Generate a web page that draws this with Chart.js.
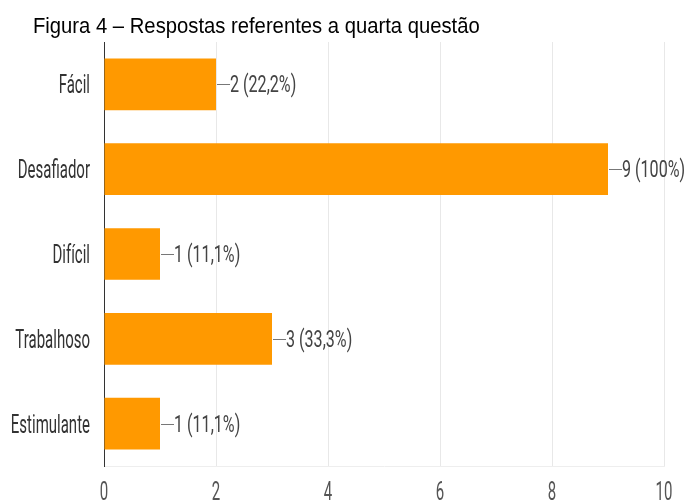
<!DOCTYPE html>
<html>
<head>
<meta charset="utf-8">
<script src="https://cdn.jsdelivr.net/npm/chart.js@4"></script>
<style>
  html, body { margin: 0; padding: 0; background: #fff; }
  #wrap { position: relative; width: 686px; height: 502px; }
  #title {
    position: absolute; left: 33px; top: 13px;
    font-family: "Liberation Sans", Arial, sans-serif;
    font-size: 22px; color: #000; white-space: nowrap;
    transform: scaleX(0.92); transform-origin: left top;
  }
</style>
</head>
<body>
<div id="wrap">
  <div id="title">Figura 4 – Respostas referentes a quarta questão</div>
  <canvas id="chart" width="686" height="502"></canvas>
</div>
<script>
const categories = ['Fácil', 'Desafiador', 'Difícil', 'Trabalhoso', 'Estimulante'];
const counts = [2, 9, 1, 3, 1];
const percents = ['22,2%', '100%', '11,1%', '33,3%', '11,1%'];
const xTicks = [0, 2, 4, 6, 8, 10];

// the original uses a tall condensed face, so squeeze Roboto horizontally
function narrowText(ctx, text, x, y, align, size, sx, color) {
    ctx.save();
    ctx.font = size + 'px Roboto, sans-serif';
    ctx.fillStyle = color;
    ctx.textBaseline = 'alphabetic';
    ctx.textAlign = align;
    ctx.translate(x, y);
    ctx.scale(sx, 1);
    ctx.fillText(text, 0, 0);
    ctx.restore();
}

const narrowLabels = {
    id: 'narrowLabels',
    afterDraw(chart) {
        const ctx = chart.ctx;
        const xs = chart.scales.x, ys = chart.scales.y;
        // category labels
        ys.ticks.forEach((t, i) => {
            const y = ys.getPixelForTick(i);
            narrowText(ctx, categories[i], 90, y + 9, 'right', 25, 0.6, '#333');
        });
        // value axis labels
        xs.ticks.forEach((t, i) => {
            narrowText(ctx, String(t.value), xs.getPixelForTick(i), 500, 'center', 25, 0.6, '#555');
        });
        // "—n (p%)" next to each bar
        const meta = chart.getDatasetMeta(0);
        meta.data.forEach((bar, i) => {
            const y = Math.round(bar.y) + 0.5;
            ctx.save();
            ctx.strokeStyle = '#777';
            ctx.lineWidth = 1;
            ctx.beginPath();
            ctx.moveTo(bar.x + 1, y);
            ctx.lineTo(bar.x + 14, y);
            ctx.stroke();
            ctx.restore();
            narrowText(ctx, counts[i] + ' (' + percents[i] + ')', bar.x + 14, bar.y + 8, 'left', 23, 0.7, '#444');
        });
    }
};

new Chart('chart', {
    type: 'bar',
    data: {
        labels: categories,
        datasets: [{
            data: counts,
            backgroundColor: '#ff9900',
            borderWidth: 0,
            categoryPercentage: 0.61,
            barPercentage: 1
        }]
    },
    options: {
        indexAxis: 'y',
        responsive: false,
        animation: false,
        layout: { padding: { top: 42, right: 22, left: 0, bottom: 0 } },
        plugins: { legend: { display: false }, tooltip: { enabled: false } },
        scales: {
            x: {
                min: 0, max: 10,
                afterBuildTicks(axis) { axis.ticks = xTicks.map(v => ({ value: v })); },
                afterFit(axis) { axis.height = 36; },
                grid: { color: '#e8e8e8', drawTicks: false },
                border: { color: '#eeeeee' },
                ticks: { display: false }
            },
            y: {
                afterFit(axis) { axis.width = 104; },
                grid: { display: false, drawTicks: false },
                border: { color: '#333', width: 1 },
                ticks: { display: false }
            }
        }
    },
    plugins: [narrowLabels]
});
</script>
</body>
</html>
